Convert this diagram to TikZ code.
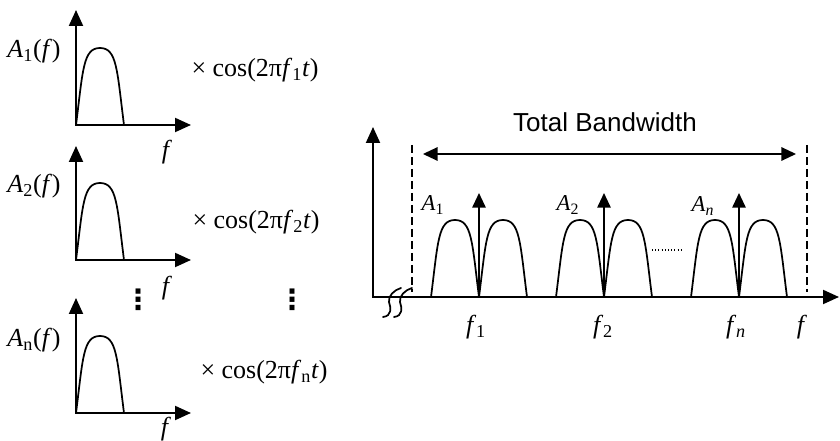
\documentclass[tikz,border=0pt]{standalone}
\usepackage{fontspec}
\setmainfont{Liberation Serif}[ItalicFont={Liberation Serif Italic}]
\newfontfamily\labelSans{Liberation Sans}
\newfontfamily\dotsFont{DejaVu Sans}[BoldFont={DejaVu Sans Bold}]
\usetikzlibrary{arrows.meta}
\tikzset{
  axisPair/.style={line width=1.5pt, line join=miter,
    {Triangle[length=12pt, width=10.5pt]}-{Triangle[length=12pt, width=10.5pt]}},
  impulse/.style={line width=1.4pt, -{Triangle[length=11pt, width=10pt]}},
  bandArrow/.style={line width=1.4pt, shorten >=8.2pt, shorten <=8.2pt,
    {Triangle[length=11pt, width=10pt]}-{Triangle[length=11pt, width=10pt]}},
  edgeDash/.style={line width=1.1pt, dash pattern=on 6pt off 3pt},
  humpLine/.style={line width=1.3pt, line join=round},
  breakLine/.style={line width=1.3pt, line cap=round},
  dotRow/.style={line width=1pt, dash pattern=on 0.8pt off 1.6pt},
  bigLabel/.style={font=\fontsize{19.5}{23}\selectfont, inner sep=0pt},
  ampLabel/.style={font=\fontsize{17}{20}\selectfont, inner sep=0pt},
  sansTitle/.style={font=\labelSans\fontsize{19.5}{23}\selectfont, inner sep=0pt},
  vDots/.style={font=\dotsFont\bfseries\fontsize{21}{24}\selectfont, inner sep=0pt},
  hump/.pic={
    \draw[humpLine] (0,0) .. controls (7,-55) and (7,-77) .. (24,-77)
      .. controls (41,-77) and (41,-55) .. (48,0);
  },
}

\begin{document}
\begin{tikzpicture}[x=0.75pt, y=-0.75pt]
  \useasboundingbox (0,0) rectangle (840,441);

  % baseband spectra
  \coordinate (o1) at (76,125);
  \coordinate (o1y) at (76,10);
  \coordinate (o1x) at (191,125);
  \draw[axisPair] (o1y) -- (o1) -- (o1x);
  \pic at (o1) {hump};
  \node[bigLabel] (amp1) at (34,51) {\textit{A}\textsubscript{1}(\textit{f})};
  \node[bigLabel] (mix1) at (255,70) {× cos(2π\textit{f}\textsubscript{1}\textit{t})};
  \node[bigLabel] (freq1) at (167,152) {\textit{f}};

  \coordinate (o2) at (76,260);
  \coordinate (o2y) at (76,146);
  \coordinate (o2x) at (191,260);
  \draw[axisPair] (o2y) -- (o2) -- (o2x);
  \pic at (o2) {hump};
  \node[bigLabel] (amp2) at (34,186) {\textit{A}\textsubscript{2}(\textit{f})};
  \node[bigLabel] (mix2) at (256,222) {× cos(2π\textit{f}\textsubscript{2}\textit{t})};
  \node[bigLabel] (freq2) at (167,288) {\textit{f}};

  \node[vDots] (skipA) at (138,300) {⋮};
  \node[vDots] (skipB) at (292,300) {⋮};

  \coordinate (o3) at (76,413);
  \coordinate (o3y) at (76,298);
  \coordinate (o3x) at (191,413);
  \draw[axisPair] (o3y) -- (o3) -- (o3x);
  \pic at (o3) {hump};
  \node[bigLabel] (amp3) at (34,340) {\textit{A}\textsubscript{n}(\textit{f})};
  \node[bigLabel] (mix3) at (264,372) {× cos(2π\textit{f}\textsubscript{n}\textit{t})};
  \node[bigLabel] (freq3) at (166,429) {\textit{f}};

  % passband spectrum
  \coordinate (po) at (373,297);
  \coordinate (poy) at (373,127);
  \coordinate (pox) at (839,297);
  \draw[axisPair] (poy) -- (po) -- (pox);

  \draw[breakLine] (383,317) .. controls (392,316) and (391,308) .. (389,302)
    .. controls (388,296) and (394,290) .. (401,288);
  \draw[breakLine] (394,317) .. controls (403,316) and (402,308) .. (400,302)
    .. controls (399,296) and (405,290) .. (412,288);

  \coordinate (bwLeftTop) at (412,145);
  \coordinate (bwLeftBot) at (412,292);
  \coordinate (bwRightTop) at (807,145);
  \coordinate (bwRightBot) at (807,292);
  \draw[edgeDash] (bwLeftTop) -- (bwLeftBot);
  \draw[edgeDash] (bwRightTop) -- (bwRightBot);
  \coordinate (bwLeft) at (412,154);
  \coordinate (bwRight) at (807,154);
  \draw[bandArrow] (bwLeft) -- (bwRight);
  \node[sansTitle] (bwTitle) at (605,122) {Total Bandwidth};

  \pic at (431,297) {hump};
  \pic at (479,297) {hump};
  \pic at (556,297) {hump};
  \pic at (604,297) {hump};
  \pic at (691,297) {hump};
  \pic at (739,297) {hump};

  \coordinate (c1) at (479,297);
  \coordinate (c1tip) at (479,193);
  \coordinate (c2) at (604,297);
  \coordinate (c2tip) at (604,193);
  \coordinate (cn) at (739,297);
  \coordinate (cntip) at (739,193);
  \draw[impulse] (c1) -- (c1tip);
  \draw[impulse] (c2) -- (c2tip);
  \draw[impulse] (cn) -- (cntip);

  \node[ampLabel] (a1) at (433,205) {\textit{A}\textsubscript{1}};
  \node[ampLabel] (a2) at (568,205) {\textit{A}\textsubscript{2}};
  \node[ampLabel] (an) at (703,206) {\textit{A}\textsubscript{\textit{n}}};

  \coordinate (gapL) at (652,250);
  \coordinate (gapR) at (682,250);
  \draw[dotRow] (gapL) -- (gapR);

  \node[bigLabel] (f1) at (476,327) {\textit{f}\textsubscript{1}};
  \node[bigLabel] (f2) at (603,327) {\textit{f}\textsubscript{2}};
  \node[bigLabel] (fn) at (736,327) {\textit{f}\textsubscript{\textit{n}}};
  \node[bigLabel] (faxis) at (802,327) {\textit{f}};
\end{tikzpicture}
\end{document}
